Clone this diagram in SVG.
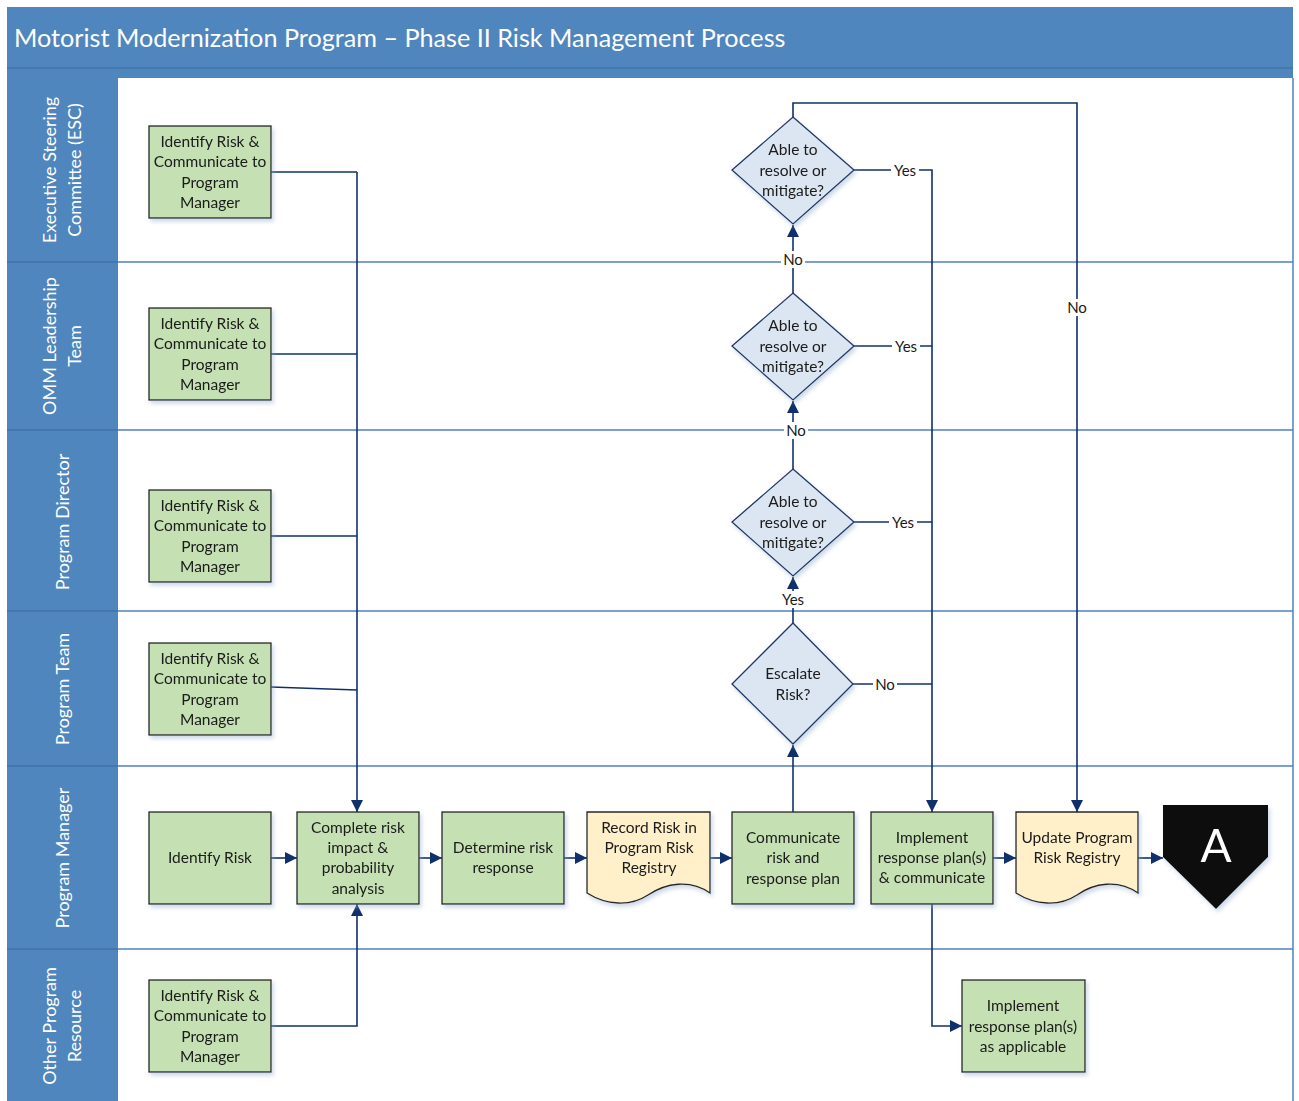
<svg xmlns="http://www.w3.org/2000/svg" width="1299" height="1101" viewBox="0 0 1299 1101">
<style>
  .hdr{fill:#4f86bd}
  .lanetxt{font-family:Lato,"Open Sans",sans-serif;font-size:18px;fill:#ffffff;text-anchor:middle}
  .lane{stroke:#4f81bd;stroke-width:1.5;fill:none}
  .proc{fill:#c5e0b3;stroke:#262626;stroke-width:1.3}
  .doc{fill:#fff0c9;stroke:#262626;stroke-width:1.3}
  .dec{fill:#dce6f2;stroke:#1f3864;stroke-width:1.3}
  .t{font-family:Lato,"Open Sans",sans-serif;font-size:15.5px;fill:#1a1a1a;text-anchor:middle}
  .c{stroke:#10306b;stroke-width:1.6;fill:none}
  .ca{stroke:#10306b;stroke-width:1.6;fill:none;marker-end:url(#ah)}
  .lbl{font-family:Lato,"Open Sans",sans-serif;font-size:15px;fill:#1a1a1a;text-anchor:middle}
  .lblbg{fill:#ffffff}
</style>
<defs>
  <marker id="ah" viewBox="0 0 10 10" refX="10" refY="5" markerWidth="12" markerHeight="12" markerUnits="userSpaceOnUse" orient="auto">
    <path d="M0,0 L10,5 L0,10 Z" fill="#10306b"/>
  </marker>
  <filter id="sh" x="-10%" y="-10%" width="130%" height="130%">
    <feDropShadow dx="2" dy="3" stdDeviation="2" flood-color="#8fa9cc" flood-opacity="0.45"/>
  </filter>
</defs>

<!-- background frame -->
<rect x="0" y="0" width="1299" height="1101" fill="#ffffff"/>
<rect x="7" y="7" width="1286" height="71" class="hdr"/>
<line x1="7" y1="68" x2="1293" y2="68" stroke="#3d6a9b" stroke-width="1.2"/>
<rect x="7" y="78" width="111" height="1023" class="hdr"/>
<line x1="1293" y1="78" x2="1293" y2="1101" stroke="#4f81bd" stroke-width="1.5"/>
<text x="14" y="47" font-family="Lato,'Open Sans',sans-serif" font-size="25.2" fill="#ffffff">Motorist Modernization Program – Phase II Risk Management Process</text>

<!-- lane separators -->
<g id="lanes">
  <line class="lane" x1="7" y1="262" x2="1293" y2="262"/>
  <line class="lane" x1="7" y1="430" x2="1293" y2="430"/>
  <line class="lane" x1="7" y1="611" x2="1293" y2="611"/>
  <line class="lane" x1="7" y1="766" x2="1293" y2="766"/>
  <line class="lane" x1="7" y1="949" x2="1293" y2="949"/>
  <g stroke="#3f73a8" stroke-width="1.5">
    <line x1="7" y1="262" x2="118" y2="262"/>
    <line x1="7" y1="430" x2="118" y2="430"/>
    <line x1="7" y1="611" x2="118" y2="611"/>
    <line x1="7" y1="766" x2="118" y2="766"/>
    <line x1="7" y1="949" x2="118" y2="949"/>
  </g>
  <text class="lanetxt" transform="translate(63,170) rotate(-90)"><tspan x="0" y="-7">Executive Steering</tspan><tspan x="0" y="18">Committee (ESC)</tspan></text>
  <text class="lanetxt" transform="translate(63,346) rotate(-90)"><tspan x="0" y="-7">OMM Leadership</tspan><tspan x="0" y="18">Team</tspan></text>
  <text class="lanetxt" transform="translate(63,522) rotate(-90)"><tspan x="0" y="6">Program Director</tspan></text>
  <text class="lanetxt" transform="translate(63,689) rotate(-90)"><tspan x="0" y="6">Program Team</tspan></text>
  <text class="lanetxt" transform="translate(63,858) rotate(-90)"><tspan x="0" y="6">Program Manager</tspan></text>
  <text class="lanetxt" transform="translate(63,1026) rotate(-90)"><tspan x="0" y="-7">Other Program</tspan><tspan x="0" y="18">Resource</tspan></text>
</g>

<!-- connectors -->
<g id="connectors">
  <polyline class="c" points="271,172 357,172"/>
  <polyline class="c" points="271,354 357,354"/>
  <polyline class="c" points="271,536 357,536"/>
  <polyline class="c" points="271,687 357,690"/>
  <polyline class="ca" points="357,172 357,812"/>
  <polyline class="ca" points="271,1026 357,1026 357,904"/>
  <line class="ca" x1="271" y1="858" x2="297" y2="858"/>
  <line class="ca" x1="419" y1="858" x2="442" y2="858"/>
  <line class="ca" x1="564" y1="858" x2="587" y2="858"/>
  <line class="ca" x1="710" y1="858" x2="732" y2="858"/>
  <line class="ca" x1="793" y1="812" x2="793" y2="745"/>
  <line class="ca" x1="793" y1="623" x2="793" y2="577"/>
  <line class="ca" x1="793" y1="469" x2="793" y2="401"/>
  <line class="ca" x1="793" y1="293" x2="793" y2="225"/>
  <polyline class="ca" points="793,117 793,103 1077,103 1077,812"/>
  <polyline class="ca" points="854,170 932,170 932,812"/>
  <line class="c" x1="854" y1="346" x2="932" y2="346"/>
  <line class="c" x1="854" y1="522" x2="932" y2="522"/>
  <line class="c" x1="853" y1="684" x2="932" y2="684"/>
  <line class="ca" x1="993" y1="858" x2="1016" y2="858"/>
  <line class="ca" x1="1138" y1="858" x2="1163" y2="858"/>
  <polyline class="ca" points="932,904 932,1026 962,1026"/>

  <rect class="lblbg" x="891" y="162" width="28" height="17"/>
  <text class="lbl" x="905" y="176">Yes</text>
  <rect class="lblbg" x="892" y="338" width="28" height="17"/>
  <text class="lbl" x="906" y="352">Yes</text>
  <rect class="lblbg" x="889" y="514" width="28" height="17"/>
  <text class="lbl" x="903" y="528">Yes</text>
  <rect class="lblbg" x="779" y="591" width="28" height="17"/>
  <text class="lbl" x="793" y="605">Yes</text>
  <rect class="lblbg" x="781" y="251" width="24" height="17"/>
  <text class="lbl" x="793" y="265">No</text>
  <rect class="lblbg" x="784" y="422" width="24" height="17"/>
  <text class="lbl" x="796" y="436">No</text>
  <rect class="lblbg" x="873" y="676" width="24" height="17"/>
  <text class="lbl" x="885" y="690">No</text>
  <rect class="lblbg" x="1065" y="299" width="24" height="17"/>
  <text class="lbl" x="1077" y="313">No</text>
</g>

<!-- side nodes -->
<g id="n-esc" filter="url(#sh)">
  <rect class="proc" x="149" y="126" width="122" height="92"/>
  <text class="t"><tspan x="210" y="147">Identify Risk &amp;</tspan><tspan x="210" y="167">Communicate to</tspan><tspan x="210" y="188">Program</tspan><tspan x="210" y="208">Manager</tspan></text>
</g>
<g id="n-omm" filter="url(#sh)">
  <rect class="proc" x="149" y="308" width="122" height="92"/>
  <text class="t"><tspan x="210" y="329">Identify Risk &amp;</tspan><tspan x="210" y="349">Communicate to</tspan><tspan x="210" y="370">Program</tspan><tspan x="210" y="390">Manager</tspan></text>
</g>
<g id="n-dir" filter="url(#sh)">
  <rect class="proc" x="149" y="490" width="122" height="92"/>
  <text class="t"><tspan x="210" y="511">Identify Risk &amp;</tspan><tspan x="210" y="531">Communicate to</tspan><tspan x="210" y="552">Program</tspan><tspan x="210" y="572">Manager</tspan></text>
</g>
<g id="n-team" filter="url(#sh)">
  <rect class="proc" x="149" y="643" width="122" height="92"/>
  <text class="t"><tspan x="210" y="664">Identify Risk &amp;</tspan><tspan x="210" y="684">Communicate to</tspan><tspan x="210" y="705">Program</tspan><tspan x="210" y="725">Manager</tspan></text>
</g>
<g id="n-other" filter="url(#sh)">
  <rect class="proc" x="149" y="980" width="122" height="92"/>
  <text class="t"><tspan x="210" y="1001">Identify Risk &amp;</tspan><tspan x="210" y="1021">Communicate to</tspan><tspan x="210" y="1042">Program</tspan><tspan x="210" y="1062">Manager</tspan></text>
</g>

<!-- program manager row -->
<g id="n-identify" filter="url(#sh)">
  <rect class="proc" x="149" y="812" width="122" height="92"/>
  <text class="t" x="210" y="863">Identify Risk</text>
</g>
<g id="n-complete" filter="url(#sh)">
  <rect class="proc" x="297" y="812" width="122" height="92"/>
  <text class="t"><tspan x="358" y="833">Complete risk</tspan><tspan x="358" y="853">impact &amp;</tspan><tspan x="358" y="873">probability</tspan><tspan x="358" y="894">analysis</tspan></text>
</g>
<g id="n-determine" filter="url(#sh)">
  <rect class="proc" x="442" y="812" width="122" height="92"/>
  <text class="t"><tspan x="503" y="853">Determine risk</tspan><tspan x="503" y="873">response</tspan></text>
</g>
<g id="n-record" filter="url(#sh)">
  <path class="doc" d="M587,812 H710 V893 C690,879 666,883 648,895 C630,907 606,905 587,893 Z"/>
  <text class="t"><tspan x="649" y="833">Record Risk in</tspan><tspan x="649" y="853">Program Risk</tspan><tspan x="649" y="873">Registry</tspan></text>
</g>
<g id="n-communicate" filter="url(#sh)">
  <rect class="proc" x="732" y="812" width="122" height="92"/>
  <text class="t"><tspan x="793" y="843">Communicate</tspan><tspan x="793" y="863">risk and</tspan><tspan x="793" y="884">response plan</tspan></text>
</g>
<g id="n-implement" filter="url(#sh)">
  <rect class="proc" x="871" y="812" width="122" height="92"/>
  <text class="t"><tspan x="932" y="843">Implement</tspan><tspan x="932" y="863">response plan(s)</tspan><tspan x="932" y="883">&amp; communicate</tspan></text>
</g>
<g id="n-update" filter="url(#sh)">
  <path class="doc" d="M1016,812 H1138 V893 C1118,879 1094,883 1077,895 C1059,907 1035,905 1016,893 Z"/>
  <text class="t"><tspan x="1077" y="843">Update Program</tspan><tspan x="1077" y="863">Risk Registry</tspan></text>
</g>
<g id="n-A" filter="url(#sh)">
  <polygon points="1163,805 1268,805 1268,857 1216,909 1163,857" fill="#0d0d0d"/>
  <text x="1216" y="862" font-family="Lato,'Open Sans',sans-serif" font-size="46" fill="#ffffff" text-anchor="middle">A</text>
</g>
<g id="n-applicable" filter="url(#sh)">
  <rect class="proc" x="962" y="980" width="123" height="92"/>
  <text class="t"><tspan x="1023" y="1011">Implement</tspan><tspan x="1023" y="1032">response plan(s)</tspan><tspan x="1023" y="1052">as applicable</tspan></text>
</g>

<!-- decisions -->
<g id="d-esc" filter="url(#sh)">
  <polygon class="dec" points="793,117 854,170 793,224 732,170"/>
  <text class="t"><tspan x="793" y="155">Able to</tspan><tspan x="793" y="176">resolve or</tspan><tspan x="793" y="196">mitigate?</tspan></text>
</g>
<g id="d-omm" filter="url(#sh)">
  <polygon class="dec" points="793,293 854,346 793,400 732,346"/>
  <text class="t"><tspan x="793" y="331">Able to</tspan><tspan x="793" y="352">resolve or</tspan><tspan x="793" y="372">mitigate?</tspan></text>
</g>
<g id="d-dir" filter="url(#sh)">
  <polygon class="dec" points="793,469 854,522 793,576 732,522"/>
  <text class="t"><tspan x="793" y="507">Able to</tspan><tspan x="793" y="528">resolve or</tspan><tspan x="793" y="548">mitigate?</tspan></text>
</g>
<g id="d-escalate" filter="url(#sh)">
  <polygon class="dec" points="793,623 853,684 793,744 732,684"/>
  <text class="t"><tspan x="793" y="679">Escalate</tspan><tspan x="793" y="700">Risk?</tspan></text>
</g>
</svg>
